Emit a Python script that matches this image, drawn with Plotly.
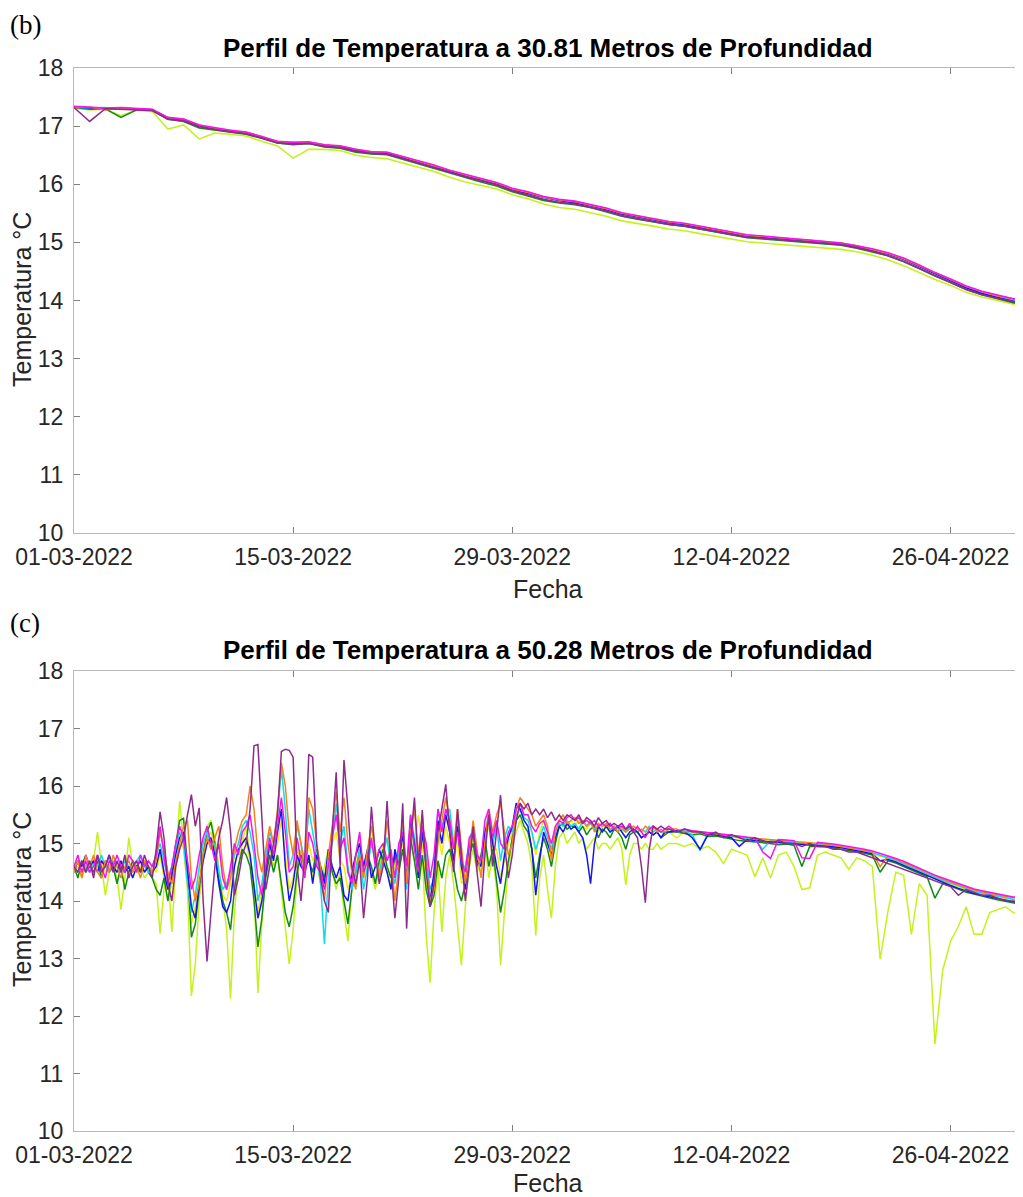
import pandas as pd
import plotly.graph_objects as go

# ---------------- time axes ----------------
t_top = list(pd.date_range("2022-03-01", periods=61, freq="D")) + [pd.Timestamp("2022-04-30 12:00")]
t_bot = list(pd.date_range("2022-03-01", periods=153, freq="6h")) + \
        list(pd.date_range("2022-04-08 12:00", periods=45, freq="12h"))

x_tickvals = ["2022-03-01", "2022-03-15", "2022-03-29", "2022-04-12", "2022-04-26"]
x_ticktext = ["01-03-2022", "15-03-2022", "29-03-2022", "12-04-2022", "26-04-2022"]
y_ticks = [10, 11, 12, 13, 14, 15, 16, 17, 18]

title_top = "Perfil de Temperatura a 30.81 Metros de Profundidad"
title_bot = "Perfil de Temperatura a 50.28 Metros de Profundidad"

# ---------------- 30.81 m (daily) ----------------
top_green = [17.32,17.29,17.30,17.15,17.28,17.27,17.12,17.08,16.97,16.93,
             16.90,16.86,16.79,16.71,16.68,16.70,16.64,16.62,16.55,16.52,
             16.51,16.43,16.36,16.28,16.19,16.11,16.04,15.97,15.87,15.80,
             15.72,15.68,15.65,15.60,15.53,15.45,15.40,15.35,15.31,15.28,
             15.23,15.18,15.12,15.08,15.06,15.04,15.02,15.00,14.98,14.95,
             14.90,14.84,14.77,14.67,14.55,14.42,14.31,14.19,14.10,14.03,
             13.97,13.93]
top_chart = [17.31,17.28,17.29,17.18,17.27,17.25,16.95,17.02,16.78,16.88,
             16.86,16.83,16.74,16.66,16.45,16.60,16.60,16.58,16.50,16.46,
             16.44,16.37,16.30,16.22,16.12,16.04,15.98,15.92,15.82,15.75,
             15.66,15.60,15.57,15.51,15.45,15.37,15.33,15.28,15.23,15.20,
             15.15,15.10,15.05,15.01,14.99,14.97,14.95,14.93,14.91,14.88,
             14.84,14.78,14.70,14.60,14.48,14.36,14.26,14.14,14.06,14.00,
             13.94,13.91]
top_blue = [17.33,17.31,17.30,17.31,17.29,17.28,17.14,17.10,17.01,16.95,
            16.92,16.88,16.81,16.72,16.71,16.71,16.67,16.64,16.58,16.55,
            16.53,16.46,16.38,16.31,16.21,16.15,16.07,16.01,15.90,15.84,
            15.77,15.72,15.68,15.63,15.56,15.49,15.44,15.39,15.34,15.31,
            15.26,15.21,15.15,15.11,15.09,15.07,15.05,15.03,15.01,14.98,
            14.93,14.87,14.80,14.71,14.59,14.46,14.34,14.22,14.12,14.05,
            13.99,13.95]
top_magenta = [17.34,17.32,17.31,17.32,17.30,17.29,17.15,17.12,17.02,16.97,
               16.93,16.90,16.82,16.74,16.72,16.73,16.68,16.66,16.60,16.56,
               16.55,16.48,16.40,16.33,16.24,16.17,16.10,16.03,15.93,15.87,
               15.79,15.74,15.71,15.65,15.59,15.51,15.46,15.41,15.36,15.33,
               15.28,15.23,15.17,15.13,15.11,15.08,15.06,15.04,15.02,14.99,
               14.94,14.89,14.82,14.73,14.61,14.48,14.37,14.25,14.16,14.09,
               14.03,14.00]
top_cyan = [17.33,17.31,17.32,17.30,17.30,17.28,17.14,17.11,17.01,16.96,
            16.92,16.89,16.81,16.73,16.71,16.72,16.67,16.65,16.59,16.55,
            16.54,16.46,16.39,16.31,16.22,16.15,16.08,16.01,15.91,15.85,
            15.77,15.72,15.69,15.63,15.57,15.49,15.44,15.39,15.34,15.31,
            15.26,15.21,15.15,15.11,15.09,15.07,15.05,15.03,15.01,14.98,
            14.93,14.87,14.80,14.71,14.59,14.46,14.35,14.23,14.14,14.07,
            14.01,13.98]
top_orange = [17.32,17.33,17.28,17.31,17.29,17.28,17.14,17.12,17.02,16.96,
              16.93,16.89,16.82,16.73,16.72,16.72,16.68,16.65,16.60,16.56,
              16.55,16.47,16.40,16.32,16.23,16.16,16.09,16.02,15.92,15.86,
              15.78,15.73,15.70,15.64,15.58,15.50,15.45,15.40,15.35,15.32,
              15.27,15.22,15.16,15.12,15.10,15.08,15.06,15.04,15.02,14.99,
              14.94,14.88,14.81,14.72,14.60,14.47,14.36,14.24,14.15,14.08,
              14.03,14.00]
top_purple = [17.32,17.08,17.30,17.29,17.28,17.27,17.12,17.09,16.99,16.94,
              16.90,16.87,16.79,16.71,16.69,16.70,16.65,16.63,16.57,16.53,
              16.52,16.44,16.37,16.29,16.20,16.13,16.06,15.99,15.89,15.82,
              15.74,15.69,15.66,15.60,15.54,15.46,15.41,15.36,15.31,15.28,
              15.23,15.19,15.13,15.09,15.07,15.05,15.03,15.01,14.99,14.96,
              14.91,14.85,14.77,14.67,14.55,14.42,14.31,14.19,14.10,14.04,
              13.98,13.95]
top_yellow = [17.33,17.30,17.31,17.30,17.29,17.28,17.13,17.11,17.01,16.95,
              16.92,16.89,16.81,16.73,16.71,16.72,16.67,16.65,16.59,16.55,
              16.54,16.47,16.39,16.32,16.22,16.16,16.09,16.02,15.92,15.86,
              15.78,15.73,15.70,15.64,15.58,15.50,15.45,15.41,15.36,15.32,
              15.27,15.22,15.16,15.12,15.10,15.08,15.06,15.04,15.02,14.99,
              14.94,14.88,14.81,14.72,14.60,14.47,14.36,14.24,14.15,14.08,
              14.02,13.99]

# ---------------- 50.28 m (6-hourly to 08-04, then 12-hourly) ----------------
bot_purple_6h = [
    14.6, 14.5, 14.7, 14.5,
    14.7, 14.4, 14.8, 14.5,
    14.6, 14.8, 14.5, 14.7,
    14.5, 14.8, 14.4, 14.6,
    14.7, 14.5, 14.8, 14.6,
    14.4, 14.9, 15.55, 15.1,
    14.3, 14.0, 14.6, 14.9,
    15.1, 15.5, 15.85, 15.3,
    15.62, 14.0, 12.95, 13.8,
    14.6, 15.1, 15.4, 15.8,
    15.2, 14.1, 14.4, 14.8,
    15.0, 15.6, 16.7, 16.72,
    15.5, 14.2, 14.6, 15.0,
    15.5, 16.6, 16.64, 16.62,
    16.5, 14.6, 14.0, 14.8,
    16.55, 16.5, 15.0, 14.4,
    14.0, 13.8, 15.2, 16.24,
    14.6, 16.45, 15.6, 14.6,
    14.3, 14.7, 13.7, 14.4,
    15.64, 14.8, 14.3, 14.6,
    15.74, 14.6, 13.7, 14.4,
    15.7, 13.52, 15.0, 15.8,
    14.6, 15.58, 14.5, 13.9,
    14.3, 15.2, 15.6, 16.03,
    15.2, 14.5, 15.6, 14.8,
    14.0, 14.6, 15.3, 14.5,
    13.9, 14.8, 15.5, 14.6,
    15.2, 15.84, 15.0, 14.4,
    14.8, 15.4, 15.7, 15.6,
    15.7, 15.5, 15.6, 15.5,
    15.6, 15.45, 15.55, 15.4,
    15.5, 15.4, 15.5, 15.45,
    15.4, 15.5, 15.35, 15.45,
    15.4, 15.3, 15.45, 15.35,
    15.4, 15.3, 15.35, 15.3,
    15.35, 15.25, 15.3, 15.2,
    15.1, 14.6, 13.97, 14.9,
    15.3, 15.25, 15.3, 15.25,
    15.25]
bot_purple_12h = [
    15.2, 15.25, 15.2, 15.2, 15.15, 15.2, 15.1, 15.15, 15.1,
    15.05, 15.1, 15.05, 15.0, 15.05, 15.0, 15.0, 14.95, 15.0,
    14.95, 14.95, 14.9, 14.9, 14.85, 14.85, 14.8, 14.75, 14.7,
    14.65, 14.6, 14.55, 14.5, 14.45, 14.4, 14.35, 14.3, 14.25,
    14.1, 14.2, 14.15, 14.1, 14.1, 14.05, 14.0, 14.0, 13.98]

bot_chart_6h = [
    14.5, 14.6, 14.4, 14.6,
    14.5, 14.7, 15.2, 14.6,
    14.1, 14.5, 14.6, 14.4,
    13.85, 14.4, 15.1, 14.6,
    14.5, 14.6, 14.4, 14.5,
    14.4, 14.3, 13.43, 14.2,
    14.5, 13.46, 14.6, 15.74,
    15.0, 14.2, 12.35, 12.9,
    14.0, 14.6, 15.3, 15.4,
    15.1, 14.6, 14.0, 13.5,
    12.3, 13.8, 14.6, 15.0,
    15.3, 14.8, 14.2, 12.4,
    13.6, 14.5, 14.9, 14.6,
    14.8, 14.2, 13.6, 12.9,
    13.5, 14.4, 14.9, 14.6,
    14.8, 14.4, 14.7, 14.3,
    14.6, 14.9, 14.5, 14.2,
    14.5, 13.8, 13.3, 14.2,
    14.6, 14.8, 14.4, 14.7,
    14.5, 14.2, 14.6, 14.8,
    14.5, 14.3, 14.7, 14.6,
    14.9, 14.5, 15.0, 14.7,
    14.4, 14.8, 13.4, 12.58,
    13.8, 14.6, 13.46, 14.4,
    14.8, 14.3, 13.6, 12.88,
    13.9, 14.6, 14.9, 14.5,
    14.7, 15.0, 14.4, 14.8,
    14.2, 12.88, 13.8, 14.6,
    15.0, 15.2, 15.4, 15.2,
    15.0, 14.6, 13.4, 14.4,
    14.8, 14.2, 13.7, 14.6,
    15.1, 15.2, 15.0, 15.1,
    15.2, 15.0, 15.1, 14.9,
    15.0, 15.1, 14.9, 15.0,
    15.0, 14.9, 15.0, 15.1,
    14.9, 14.28, 14.8, 15.0,
    15.0, 14.9, 15.0, 14.9,
    14.9, 15.0, 14.9, 14.95,
    15.0]
bot_chart_12h = [
    15.0, 14.95, 15.0, 14.9, 14.95, 14.85, 14.65, 14.9, 14.85,
    14.8, 14.42, 14.75, 14.4, 14.8, 14.85, 14.6, 14.2, 14.23,
    14.8, 14.85, 14.8, 14.75, 14.55, 14.75, 14.7, 14.6, 12.99,
    13.82, 14.5, 14.45, 13.42, 14.3, 14.1, 11.51, 12.8, 13.3,
    13.56, 13.9, 13.42, 13.42, 13.8, 13.85, 13.9, 13.8, 13.78]

bot_green_6h = [
    14.6, 14.4, 14.7, 14.5,
    14.6, 14.5, 14.7, 14.4,
    14.7, 14.5, 14.6, 14.3,
    14.6, 14.2, 14.5, 14.7,
    14.6, 14.5, 14.7, 14.5,
    14.4, 14.2, 14.1, 14.4,
    14.0, 14.5, 15.0, 15.4,
    15.44, 14.6, 13.37, 13.6,
    14.2, 14.8, 15.2, 15.37,
    15.0, 14.4, 14.0, 13.8,
    13.5, 14.2, 14.6, 14.9,
    14.8, 14.6, 14.0, 13.2,
    13.7, 14.4, 14.8, 14.5,
    14.8, 14.3, 13.8, 13.55,
    13.9, 14.5, 14.8, 14.6,
    14.7, 14.5, 14.9, 14.6,
    14.4, 14.8, 14.5, 14.3,
    14.4, 14.0, 13.6, 14.2,
    14.5, 14.9, 14.6, 14.8,
    14.6, 14.3, 14.7, 14.9,
    14.6, 14.4, 14.8, 14.5,
    14.9, 14.4, 15.1, 14.7,
    14.2, 14.8, 14.2, 13.9,
    14.1, 14.7, 14.4, 14.8,
    14.9, 14.6, 14.2, 14.0,
    14.3, 14.8, 15.0, 14.6,
    14.8, 15.1, 14.6, 14.9,
    14.3, 13.8, 14.2, 14.7,
    15.1, 15.4, 15.5, 15.3,
    15.2, 14.9, 14.4, 14.8,
    15.1, 14.9, 14.6, 15.0,
    15.3, 15.35, 15.25, 15.3,
    15.3, 15.2, 15.3, 15.15,
    15.25, 15.3, 15.1, 15.25,
    15.2, 15.1, 15.25, 15.2,
    15.1, 14.9, 15.15, 15.2,
    15.2, 15.1, 15.15, 15.2,
    15.15, 15.2, 15.1, 15.15,
    15.2]
bot_green_12h = [
    15.2, 15.18, 15.15, 15.17, 15.12, 15.13, 15.1, 15.08, 15.05,
    15.04, 15.03, 15.02, 15.0, 14.98, 14.99, 14.97, 14.6, 14.95,
    14.95, 14.94, 14.92, 14.9, 14.88, 14.86, 14.83, 14.8, 14.5,
    14.7, 14.66, 14.6, 14.54, 14.48, 14.42, 14.05, 14.3, 14.26,
    14.2, 14.15, 14.12, 14.08, 14.05, 14.02, 13.99, 13.96, 13.94]

bot_blue_6h = [
    14.5, 14.7, 14.6, 14.8,
    14.6, 14.7, 14.5, 14.7,
    14.6, 14.8, 14.6, 14.5,
    14.7, 14.5, 14.6, 14.4,
    14.6, 14.7, 14.5, 14.6,
    14.5, 14.6, 14.9, 14.5,
    14.2, 14.4, 14.8, 15.1,
    15.2, 14.6, 13.9, 13.7,
    14.3, 14.7, 15.0, 15.1,
    14.8, 14.3, 13.9, 13.8,
    14.0, 14.6, 14.9, 15.0,
    15.1, 14.8, 14.2, 13.7,
    14.0, 14.5, 15.0, 14.7,
    15.2, 15.6, 14.6, 14.0,
    14.3, 14.8, 14.6, 14.5,
    14.8, 14.3, 14.8, 14.6,
    14.3, 14.9, 14.6, 14.4,
    14.6, 14.1, 14.0, 14.5,
    14.8, 15.0, 14.6, 14.9,
    14.4, 14.6, 14.9, 14.7,
    14.5, 14.2, 14.9, 14.6,
    15.2, 14.3, 15.4, 15.0,
    14.4, 15.2, 14.6, 14.0,
    14.5, 15.4, 15.0, 15.5,
    15.2, 14.7, 15.3, 14.6,
    14.2, 14.9, 15.2, 14.7,
    14.6, 15.2, 15.4, 15.0,
    14.6, 14.3, 14.8, 15.1,
    15.3, 15.7, 15.6, 15.4,
    15.3, 14.9, 14.1, 14.7,
    15.2, 15.0, 14.8, 15.1,
    15.3, 15.2, 15.35, 15.25,
    15.3, 15.2, 15.1, 14.8,
    14.3, 15.0, 15.3, 15.2,
    15.3, 15.2, 15.25, 15.3,
    15.2, 15.1, 15.2, 15.25,
    15.2, 15.1, 15.15, 15.2,
    15.15, 15.2, 15.1, 15.2,
    15.2]
bot_blue_12h = [
    15.22, 15.2, 15.1, 14.9, 15.15, 15.15, 15.12, 15.1, 14.95,
    15.07, 15.05, 15.04, 15.03, 15.02, 15.01, 15.0, 14.99, 14.98,
    14.97, 14.96, 14.95, 14.93, 14.9, 14.88, 14.85, 14.82, 14.7,
    14.72, 14.68, 14.62, 14.56, 14.5, 14.44, 14.38, 14.32, 14.27,
    14.22, 14.17, 14.13, 14.1, 14.07, 14.04, 14.01, 13.98, 13.96]

bot_cyan_6h = [
    14.6, 14.5, 14.7, 14.6,
    14.5, 14.7, 14.6, 14.8,
    14.6, 14.5, 14.7, 14.6,
    14.5, 14.7, 14.6, 14.5,
    14.7, 14.8, 14.6, 14.5,
    14.6, 14.8, 15.0, 14.7,
    14.4, 14.6, 14.9, 15.2,
    15.0, 14.3, 13.8, 14.1,
    14.6, 15.0, 15.2, 14.9,
    15.0, 14.5, 14.2, 14.3,
    14.5, 14.8, 15.0, 15.3,
    15.4, 15.2, 14.8, 14.0,
    14.3, 14.8, 15.2, 15.0,
    15.5, 16.3, 15.6, 14.6,
    14.8, 15.3, 15.0, 14.7,
    15.6, 15.2, 14.8, 14.3,
    13.25, 14.4, 15.0, 15.7,
    15.0, 15.3, 14.6, 14.2,
    14.5, 14.9, 14.2, 14.6,
    15.0, 14.7, 14.5, 14.8,
    15.1, 14.6, 14.3, 14.8,
    15.3, 14.2, 15.5, 15.1,
    14.6, 15.3, 14.8, 14.2,
    14.4, 15.6, 15.3, 15.5,
    15.6, 15.0, 15.4, 14.6,
    14.6, 15.0, 15.3, 14.8,
    14.6, 15.2, 15.5, 15.0,
    15.3, 14.7, 15.1, 15.3,
    15.2, 15.5, 15.6, 15.45,
    15.4, 15.2, 14.9, 15.1,
    15.3, 15.1, 14.9, 15.2,
    15.35, 15.3, 15.4, 15.3,
    15.35, 15.25, 15.4, 15.3,
    15.35, 15.25, 15.3, 15.35,
    15.3, 15.2, 15.3, 15.25,
    15.25, 15.2, 15.3, 15.25,
    15.2, 15.25, 15.2, 15.3,
    15.2, 15.25, 15.2, 15.2,
    15.25]
bot_cyan_12h = [
    15.2, 15.22, 15.15, 14.88, 15.18, 15.16, 15.14, 15.12, 15.1,
    15.09, 15.07, 14.9, 15.05, 15.04, 15.03, 15.02, 15.01, 15.0,
    14.99, 14.98, 14.96, 14.94, 14.92, 14.9, 14.87, 14.84, 14.8,
    14.76, 14.71, 14.65, 14.59, 14.53, 14.47, 14.41, 14.36, 14.31,
    14.26, 14.21, 14.17, 14.14, 14.11, 14.08, 14.05, 14.03, 14.01]

bot_orange_6h = [
    14.5, 14.7, 14.4, 14.8,
    14.6, 14.8, 14.5, 14.4,
    14.7, 14.5, 14.8, 14.6,
    14.4, 14.6, 14.7, 14.5,
    14.6, 14.4, 14.7, 14.6,
    14.5, 14.7, 15.2, 14.9,
    14.5, 14.3, 14.7, 15.0,
    15.3, 15.4, 14.4, 14.0,
    14.3, 14.8, 15.1, 14.9,
    15.1, 15.3, 14.6, 14.2,
    14.4, 14.9, 15.2, 15.4,
    15.5, 16.0, 15.6, 14.8,
    14.5, 14.9, 15.3, 15.0,
    15.6, 16.4, 16.0, 15.2,
    14.8, 15.4, 15.0, 14.5,
    15.8, 15.6, 15.0, 14.6,
    14.0, 14.8, 15.3, 15.9,
    15.2, 15.8, 15.0, 14.5,
    14.2, 14.8, 14.4, 14.9,
    15.3, 14.9, 14.4, 14.7,
    15.4, 14.8, 14.0, 14.6,
    15.5, 14.3, 15.2, 15.6,
    14.8, 15.5, 14.6, 14.0,
    14.2, 15.0, 15.4, 15.8,
    15.4, 14.9, 15.6, 15.0,
    14.3, 14.8, 15.4, 14.9,
    14.4, 15.0, 15.6, 15.2,
    15.5, 15.7, 15.2, 14.8,
    15.0, 15.6, 15.8, 15.7,
    15.6, 15.5, 15.3, 15.4,
    15.5, 15.3, 14.7, 15.2,
    15.4, 15.5, 15.35, 15.4,
    15.45, 15.35, 15.4, 15.3,
    15.4, 15.2, 15.35, 15.3,
    15.35, 15.25, 15.3, 15.2,
    15.3, 15.2, 15.25, 15.3,
    15.25, 15.2, 15.3, 15.25,
    15.3, 15.2, 15.25, 15.2,
    15.25]
bot_orange_12h = [
    15.25, 15.2, 15.22, 15.2, 15.18, 15.17, 15.15, 15.14, 15.12,
    15.1, 15.09, 15.08, 15.07, 15.06, 15.05, 15.04, 15.02, 15.01,
    15.0, 14.99, 14.97, 14.95, 14.93, 14.91, 14.88, 14.85, 14.6,
    14.78, 14.73, 14.67, 14.61, 14.55, 14.49, 14.43, 14.38, 14.33,
    14.28, 14.23, 14.19, 14.16, 14.13, 14.1, 14.08, 14.06, 14.05]

bot_magenta_6h = [
    14.6, 14.8, 14.5, 14.7,
    14.5, 14.6, 14.8, 14.6,
    14.4, 14.7, 14.6, 14.8,
    14.6, 14.5, 14.8, 14.7,
    14.5, 14.8, 14.6, 14.7,
    14.6, 14.8, 15.3, 14.8,
    14.3, 14.6, 15.0, 15.3,
    15.1, 14.7, 14.2, 14.4,
    14.8, 15.1, 15.3, 15.0,
    14.7, 15.0, 14.4, 14.2,
    14.6, 15.0, 14.8, 15.2,
    15.3, 15.5, 15.0, 14.4,
    14.1, 14.6, 15.1, 14.8,
    15.3, 15.8, 15.2, 14.5,
    14.6, 15.1, 14.7, 14.4,
    15.2, 15.0, 14.6, 14.5,
    14.2, 14.6, 15.1, 15.5,
    14.9, 15.1, 14.5, 14.3,
    14.8, 15.2, 14.5, 14.7,
    15.1, 14.6, 14.9, 15.0,
    14.7, 14.9, 14.4, 15.0,
    15.2, 14.6, 15.5, 14.9,
    14.5, 15.3, 15.0, 14.4,
    14.8, 15.6, 15.2, 15.6,
    15.4, 14.9, 15.2, 14.7,
    14.5, 15.1, 15.2, 14.8,
    14.7, 15.4, 15.6, 15.1,
    15.4, 15.0, 14.9, 15.2,
    15.3, 15.6, 15.7, 15.5,
    15.5, 15.3, 15.2, 15.35,
    15.4, 15.2, 15.0, 15.3,
    15.4, 15.35, 15.45, 15.5,
    15.4, 15.45, 15.35, 15.4,
    15.35, 15.4, 15.3, 15.35,
    15.3, 15.35, 15.25, 15.3,
    15.3, 15.25, 15.35, 15.2,
    15.3, 15.2, 15.1, 15.25,
    15.3, 15.25, 15.2, 15.25,
    15.3]
bot_magenta_12h = [
    15.2, 15.25, 15.22, 15.2, 15.19, 15.18, 15.16, 15.15, 15.13,
    15.11, 15.1, 14.85, 14.74, 15.07, 15.06, 15.05, 14.75, 14.74,
    15.02, 15.01, 14.99, 14.97, 14.95, 14.93, 14.9, 14.87, 14.83,
    14.79, 14.74, 14.69, 14.63, 14.57, 14.5, 14.45, 14.4, 14.35,
    14.3, 14.25, 14.21, 14.18, 14.15, 14.12, 14.09, 14.07, 14.06]

bot_yellow_6h = [
    14.6, 14.7, 14.5, 14.6,
    14.7, 14.5, 14.6, 14.7,
    14.5, 14.6, 14.7, 14.5,
    14.6, 14.7, 14.5, 14.6,
    14.5, 14.6, 14.7, 14.5,
    14.6, 14.5, 14.8, 14.4,
    14.0, 14.3, 14.7, 15.1,
    14.9, 14.2, 13.6, 13.9,
    14.5, 14.9, 15.1, 15.2,
    14.9, 14.4, 14.1, 14.0,
    14.3, 14.8, 15.0, 15.1,
    15.0, 14.7, 14.3, 13.8,
    14.2, 14.7, 15.0, 14.8,
    15.0, 15.4, 14.8, 14.2,
    14.4, 14.9, 14.7, 14.6,
    15.0, 14.7, 14.9, 14.4,
    14.2, 14.8, 15.0, 15.2,
    14.7, 14.6, 14.2, 14.4,
    14.7, 15.1, 14.4, 14.8,
    15.4, 14.7, 14.5, 15.0,
    15.1, 14.5, 14.6, 14.9,
    15.0, 14.4, 15.3, 14.9,
    15.5, 15.0, 14.3, 14.0,
    14.3, 15.2, 14.8, 15.3,
    15.0, 14.6, 15.1, 14.3,
    14.4, 14.8, 15.1, 14.6,
    14.5, 15.1, 15.3, 14.9,
    14.9, 14.4, 14.7, 15.0,
    15.2, 15.6, 15.7, 15.5,
    15.5, 15.2, 14.8, 15.2,
    15.4, 15.2, 14.9, 15.3,
    15.4, 15.35, 15.3, 15.4,
    15.3, 15.4, 15.3, 15.25,
    15.35, 15.3, 15.2, 15.3,
    15.3, 15.25, 15.3, 15.2,
    15.25, 15.2, 15.25, 15.3,
    15.2, 15.25, 15.2, 15.25,
    15.2, 15.25, 15.2, 15.15,
    15.2]
bot_yellow_12h = [
    15.1, 15.2, 15.18, 15.19, 15.17, 15.15, 15.13, 15.11, 15.1,
    15.08, 15.07, 15.06, 15.05, 15.04, 15.03, 15.02, 15.0, 14.99,
    14.98, 14.97, 14.95, 14.93, 14.9, 14.88, 14.85, 14.82, 14.78,
    14.74, 14.69, 14.63, 14.57, 14.51, 14.45, 14.4, 14.34, 14.29,
    14.24, 14.2, 14.16, 14.13, 14.1, 14.07, 14.05, 14.03, 14.02]

colors = {
    "yellow": "#ecec10",
    "chart": "#c4f21c",
    "green": "#138a13",
    "cyan": "#10dcf0",
    "blue": "#1414f0",
    "orange": "#f5821f",
    "magenta": "#f514f0",
    "purple": "#8e2a8c",
}

top_series = [("yellow", top_yellow), ("chart", top_chart), ("green", top_green),
              ("cyan", top_cyan), ("blue", top_blue), ("orange", top_orange),
              ("magenta", top_magenta), ("purple", top_purple)]
bot_series = [("yellow", bot_yellow_6h + bot_yellow_12h),
              ("chart", bot_chart_6h + bot_chart_12h),
              ("green", bot_green_6h + bot_green_12h),
              ("cyan", bot_cyan_6h + bot_cyan_12h),
              ("blue", bot_blue_6h + bot_blue_12h),
              ("orange", bot_orange_6h + bot_orange_12h),
              ("magenta", bot_magenta_6h + bot_magenta_12h),
              ("purple", bot_purple_6h + bot_purple_12h)]

fig = go.Figure()
for name, ys in top_series:
    n = min(len(ys), len(t_top))
    fig.add_trace(go.Scatter(x=t_top[:n], y=ys[:n], mode="lines", name=name,
                             line=dict(color=colors[name], width=1.6),
                             xaxis="x", yaxis="y", showlegend=False))
for name, ys in bot_series:
    n = min(len(ys), len(t_bot))
    fig.add_trace(go.Scatter(x=t_bot[:n], y=ys[:n], mode="lines", name=name,
                             line=dict(color=colors[name], width=1.5),
                             xaxis="x2", yaxis="y2", showlegend=False))

# The page body adds an 8 px margin, so the figure is placed 8 px in and down.
OFF = 8
W, H = 1023 - OFF, 1197 - OFF


def px(x):
    return (x - OFF) / W


def py(y):
    return 1 - (y - OFF) / H


FONT = "Liberation Sans, Arial, Helvetica, sans-serif"
xdom = [px(74), px(1021)]
ytop = [py(533), py(68)]
ybot = [py(1131), py(671)]

common = dict(showline=True, linecolor="#b8b8b8", linewidth=1, mirror="ticks",
              ticks="inside", ticklen=6, tickwidth=1, tickcolor="#808080",
              showgrid=False, zeroline=False, automargin=False,
              tickfont=dict(family=FONT, size=23, color="#262626"))
xcommon = dict(common, type="date", range=["2022-03-01", "2022-04-30 12:00"],
               tickmode="array", tickvals=x_tickvals, ticktext=x_ticktext, domain=xdom,
               ticklabelstandoff=3)
ycommon = dict(common, range=[10, 18], tickmode="array", tickvals=y_ticks,
               ticktext=[str(v) for v in y_ticks], ticklabelstandoff=5)

fig.update_layout(
    template="none",
    width=W, height=H, autosize=False,
    margin=dict(l=0, r=0, t=0, b=0, pad=0),
    paper_bgcolor="white", plot_bgcolor="white",
    xaxis=dict(xcommon, anchor="y"),
    yaxis=dict(ycommon, domain=ytop, anchor="x"),
    xaxis2=dict(xcommon, anchor="y2"),
    yaxis2=dict(ycommon, domain=ybot, anchor="x2"),
)

xc = px((74 + 1022) / 2)
ann = []
serif = dict(family="Liberation Serif, Times New Roman, serif", size=27, color="black")
ann.append(dict(text="(b)", x=px(8), y=py(8), xanchor="left", yanchor="top", font=serif))
ann.append(dict(text="(c)", x=px(8), y=py(606), xanchor="left", yanchor="top", font=serif))
for ttl, yc in [(title_top, 48), (title_bot, 650)]:
    ann.append(dict(text="<b>" + ttl + "</b>", x=xc, y=py(yc), xanchor="center", yanchor="middle",
                    font=dict(family=FONT, size=26, color="black")))
for yc in [589, 1183]:
    ann.append(dict(text="Fecha", x=xc, y=py(yc), xanchor="center", yanchor="middle",
                    font=dict(family=FONT, size=25, color="#262626")))
for yc in [300, 900]:
    ann.append(dict(text="Temperatura °C", x=px(22), y=py(yc), xanchor="center", yanchor="middle",
                    textangle=-90, font=dict(family=FONT, size=25, color="#262626")))
for a in ann:
    a.update(xref="paper", yref="paper", showarrow=False)
fig.update_layout(annotations=ann)

fig.write_html("out.html")
